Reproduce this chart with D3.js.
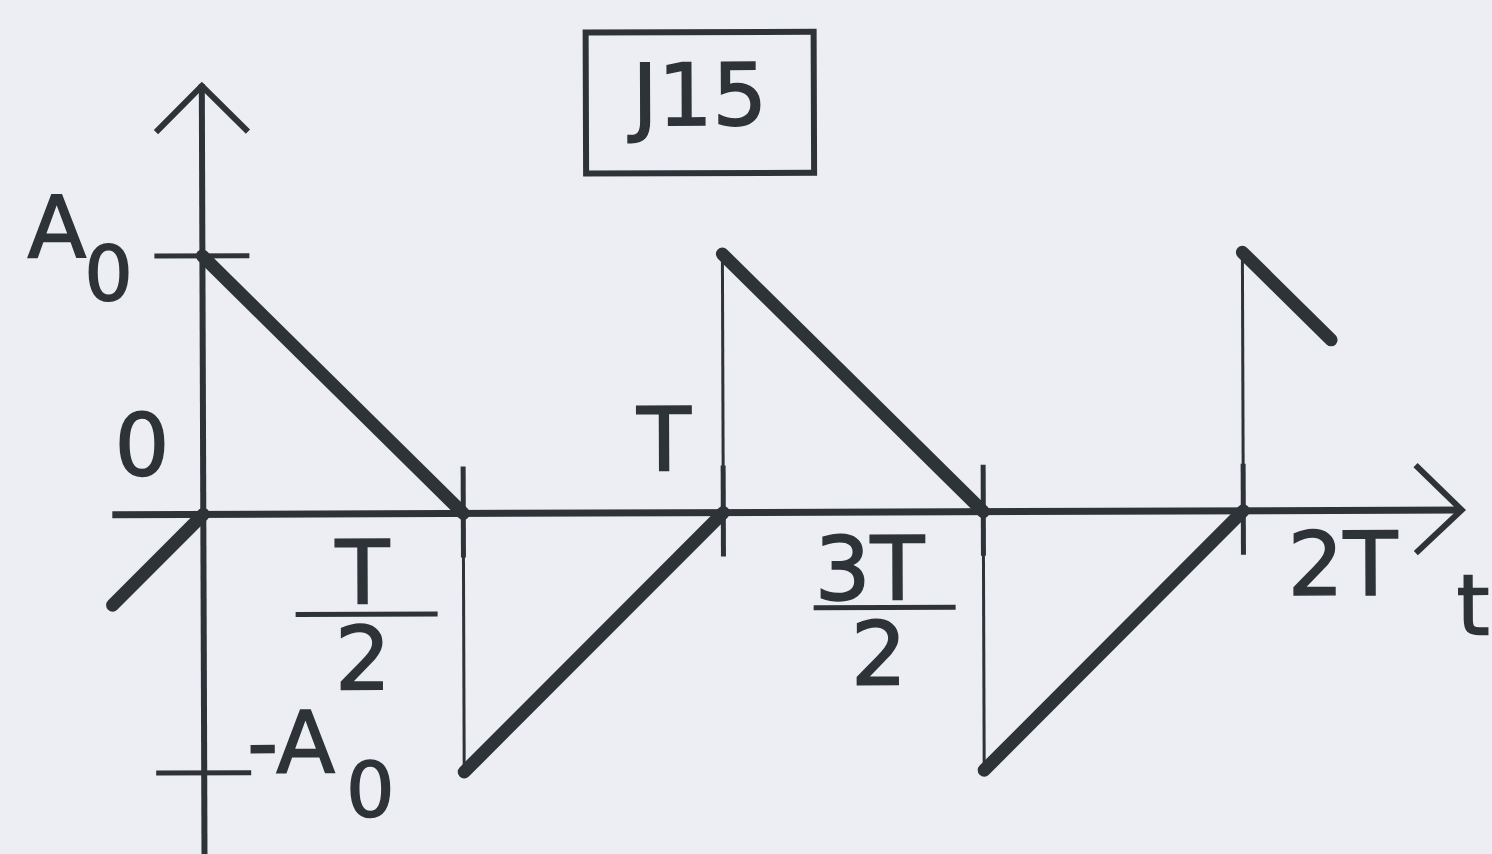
<!DOCTYPE html>
<html>
<head>
<meta charset="utf-8">
<script src="https://cdn.jsdelivr.net/npm/d3@7"></script>
<style>
  body { margin: 0; background: #eceef3; }
  svg { display: block; }
  text { font-family: "DejaVu Sans", sans-serif; fill: #2e3338; stroke: #2e3338; stroke-width: 1.6px; }
</style>
</head>
<body>
<svg id="chart"></svg>
<script>
let width = 1492;
let height = 854;

// periodo em unidades de T, amplitude em unidades de A0
let title = "J15";
// rampas (traco grosso)
let rampStart = [[-0.175, -0.35], [0, 1], [0.5, -1], [1, 1], [1.5, -1], [2, 1]];
let rampEnd   = [[0, 0], [0.5, 0], [1, 0], [1.5, 0], [2, 0], [2.17, 0.66]];
// saltos verticais (traco fino)
let jumpT   = [0.5, 1, 1.5, 2];
let jumpTo  = [-1, 1, -1, 1];
// ticks
let xTicks = [0.5, 1, 1.5, 2];
let yTicks = [1, -1];

const ink = "#2e3338";

let svg = d3.select("#chart").attr("width", width).attr("height", height);
let g = svg.append("g").attr("transform", "rotate(-0.2, 746, 427)");

let x = d3.scaleLinear().domain([0, 2]).range([203, 1243]);
let y = d3.scaleLinear().domain([-1, 1]).range([771, 254]);

// eixos
g.append("line")
  .attr("x1", x(-0.175)).attr("x2", x(2.42))
  .attr("y1", y(0)).attr("y2", y(0))
  .attr("stroke", ink).attr("stroke-width", 7);
g.append("line")
  .attr("x1", x(0)).attr("x2", x(0))
  .attr("y1", 82).attr("y2", height + 10)
  .attr("stroke", ink).attr("stroke-width", 6);

// setas
g.append("polyline")
  .attr("points", [[x(0) - 46, 130], [x(0), 84], [x(0) + 46, 130]].join(" "))
  .attr("fill", "none").attr("stroke", ink).attr("stroke-width", 6);
g.append("polyline")
  .attr("points", [[x(2.42) - 46, y(0) - 45], [x(2.42), y(0)], [x(2.42) - 46, y(0) + 43]].join(" "))
  .attr("fill", "none").attr("stroke", ink).attr("stroke-width", 6);

// ticks do eixo t
g.selectAll(".xtick")
  .data(xTicks)
  .enter()
  .append("line")
  .attr("class", "xtick")
  .attr("x1", d => x(d)).attr("x2", d => x(d))
  .attr("y1", y(0) - 47).attr("y2", y(0) + 44)
  .attr("stroke", ink).attr("stroke-width", 5);

// ticks do eixo vertical
g.selectAll(".ytick")
  .data(yTicks)
  .enter()
  .append("line")
  .attr("class", "ytick")
  .attr("x1", x(0) - 48).attr("x2", x(0) + 47)
  .attr("y1", d => y(d)).attr("y2", d => y(d))
  .attr("stroke", ink).attr("stroke-width", 5);

// saltos
g.selectAll(".jump")
  .data(jumpT)
  .enter()
  .append("line")
  .attr("class", "jump")
  .attr("x1", d => x(d)).attr("x2", d => x(d))
  .attr("y1", y(0)).attr("y2", (d, i) => y(jumpTo[i]))
  .attr("stroke", ink).attr("stroke-width", 3);

// rampas
g.selectAll(".ramp")
  .data(rampStart)
  .enter()
  .append("line")
  .attr("class", "ramp")
  .attr("x1", d => x(d[0])).attr("y1", d => y(d[1]))
  .attr("x2", (d, i) => x(rampEnd[i][0])).attr("y2", (d, i) => y(rampEnd[i][1]))
  .attr("stroke", ink).attr("stroke-width", 13).attr("stroke-linecap", "round");

// rotulos
function label(txt, px, py, size, anchor) {
  g.append("text")
    .attr("x", px).attr("y", py)
    .attr("font-size", size)
    .attr("text-anchor", anchor || "middle")
    .text(txt);
}

// fracao: numerador e denominador num so texto
function fraction(num, den, pxNum, pyNum, pxDen, pyDen, barX1, barX2, barY) {
  let t = g.append("text").attr("font-size", 88).attr("text-anchor", "middle");
  t.append("tspan").attr("x", pxNum).attr("y", pyNum).text(num);
  t.append("tspan").attr("x", pxDen).attr("y", pyDen).text(den);
  g.append("line")
    .attr("x1", barX1).attr("x2", barX2)
    .attr("y1", barY).attr("y2", barY)
    .attr("stroke", ink).attr("stroke-width", 5);
}

label("A", 28, y(1) + 1, 86, "start");
label("0", 85, y(1) + 44, 76, "start");
label("0", 142, 473, 86);
label("-A", 246, y(-1), 86, "start");
label("0", 345, y(-1) + 44, 76, "start");

fraction("T", "2", x(0.5) - 101, 602, x(0.5) - 101, 688, x(0.5) - 168, x(0.5) - 26, 613);
label("T", x(1) - 59, 470, 88);
fraction("3T", "2", x(1.5) - 114, 600, x(1.5) - 105, 685, x(1.5) - 170, x(1.5) - 28, 608);
label("2T", x(2) + 99, 597, 88);
label("t", 1456, 637, 84, "start");

// titulo
g.append("rect")
  .attr("x", 587).attr("y", 32)
  .attr("width", 228).attr("height", 141)
  .attr("fill", "none").attr("stroke", ink).attr("stroke-width", 6);
label(title, 701, 125, 86);
</script>
</body>
</html>
